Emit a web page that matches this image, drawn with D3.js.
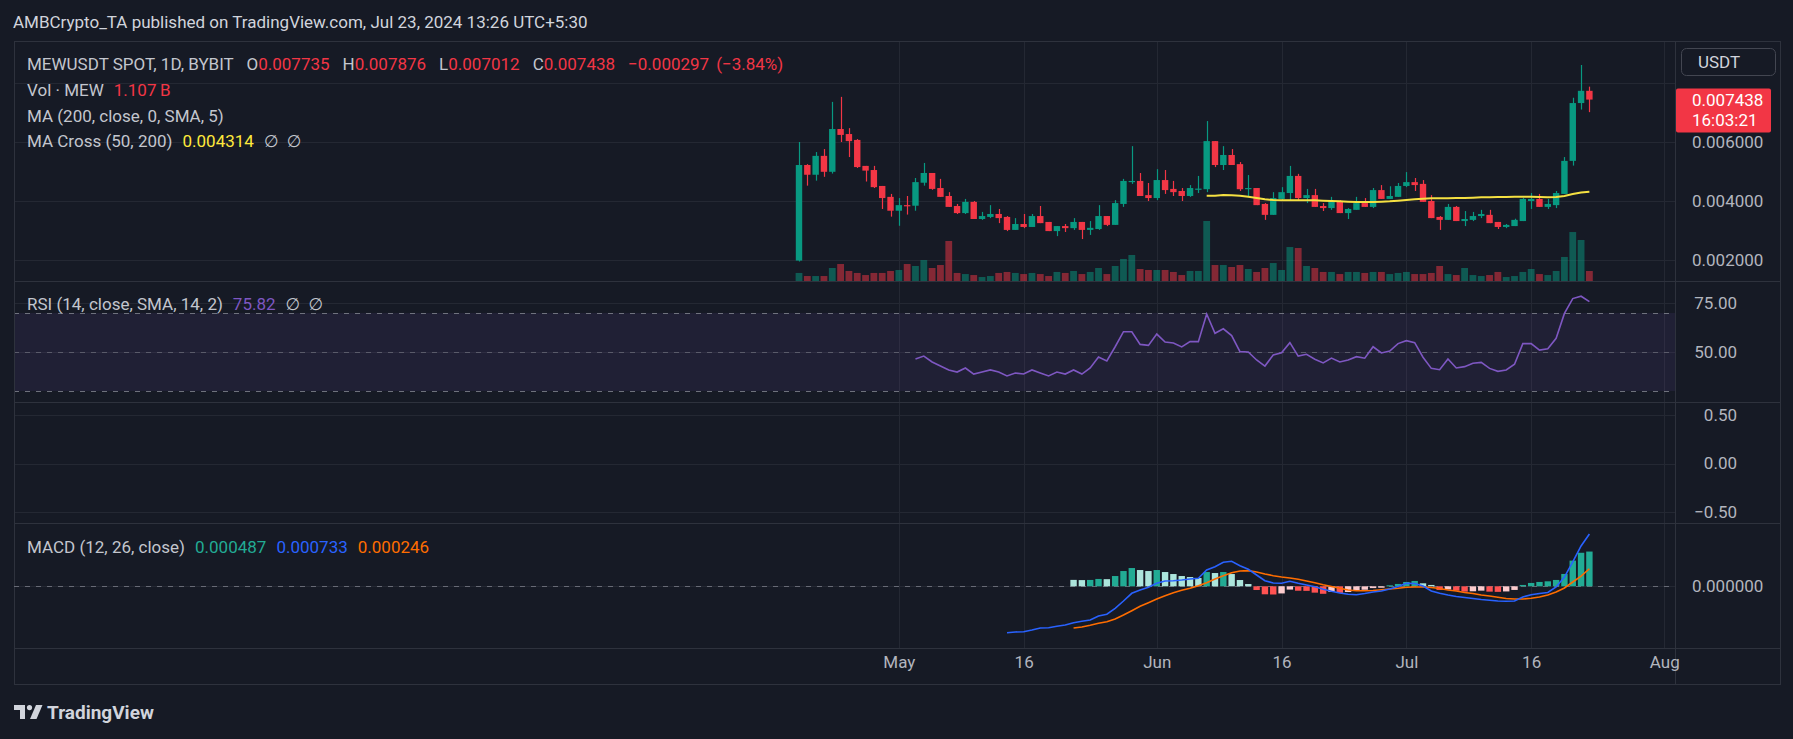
<!DOCTYPE html>
<html>
<head>
<meta charset="utf-8">
<script src="https://cdn.jsdelivr.net/npm/d3@7"></script>
<style>
html, body { margin: 0; padding: 0; background: #161a25; }
svg { display: block; font-family: Roboto, "Noto Sans", "DejaVu Sans", sans-serif; }
</style>
</head>
<body>
<script>
// ---- Data ----
const firstDay = Date.UTC(2024, 3, 19);   // Apr 19, 2024
const lastDay = Date.UTC(2024, 6, 23);    // Jul 23, 2024

const opens = [0.00198,0.00522,0.00489,0.00553,0.00499,0.00644,0.00627,0.00607,0.00519,0.00505,
  0.00451,0.00414,0.00367,0.00386,0.00384,0.00462,0.00495,0.00444,0.00417,0.00383,
  0.00359,0.00397,0.00339,0.00346,0.00356,0.00346,0.00302,0.00322,0.00312,0.00349,
  0.00329,0.00298,0.00315,0.00308,0.00329,0.00302,0.00305,0.00349,0.00319,0.00390,
  0.00465,0.00468,0.00420,0.00410,0.00471,0.00441,0.00434,0.00417,0.00440,0.00440,
  0.00603,0.00522,0.00556,0.00525,0.00440,0.00444,0.00390,0.00353,0.00407,0.00427,
  0.00485,0.00410,0.00420,0.00383,0.00376,0.00400,0.00359,0.00370,0.00393,0.00380,
  0.00437,0.00407,0.00414,0.00451,0.00464,0.00458,0.00400,0.00346,0.00336,0.00380,
  0.00332,0.00336,0.00349,0.00353,0.00329,0.00312,0.00315,0.00332,0.00400,0.00407,
  0.00380,0.00386,0.00424,0.00536,0.00732,0.007735];
const highs = [0.00600,0.00525,0.00566,0.00576,0.00736,0.00753,0.00647,0.00610,0.00519,0.00519,
  0.00451,0.00424,0.00410,0.00417,0.00478,0.00529,0.00495,0.00475,0.00430,0.00390,
  0.00407,0.00400,0.00363,0.00386,0.00373,0.00349,0.00342,0.00356,0.00356,0.00383,
  0.00329,0.00315,0.00322,0.00342,0.00329,0.00332,0.00386,0.00349,0.00403,0.00475,
  0.00586,0.00495,0.00461,0.00508,0.00505,0.00468,0.00444,0.00454,0.00485,0.00671,
  0.00603,0.00586,0.00576,0.00532,0.00488,0.00444,0.00393,0.00430,0.00447,0.00519,
  0.00492,0.00441,0.00441,0.00393,0.00414,0.00403,0.00376,0.00414,0.00410,0.00444,
  0.00454,0.00450,0.00461,0.00498,0.00478,0.00471,0.00420,0.00349,0.00390,0.00383,
  0.00366,0.00363,0.00370,0.00370,0.00329,0.00322,0.00340,0.00411,0.00427,0.00424,
  0.00407,0.00434,0.00549,0.00750,0.00861,0.007876];
const lows = [0.00195,0.00452,0.00469,0.00482,0.00493,0.00600,0.00549,0.00512,0.00466,0.00444,
  0.00373,0.00347,0.00316,0.00354,0.00367,0.00452,0.00438,0.00414,0.00380,0.00356,
  0.00356,0.00339,0.00336,0.00342,0.00325,0.00298,0.00302,0.00308,0.00312,0.00325,
  0.00298,0.00281,0.00295,0.00302,0.00271,0.00285,0.00302,0.00315,0.00319,0.00380,
  0.00458,0.00417,0.00400,0.00403,0.00424,0.00417,0.00400,0.00414,0.00427,0.00430,
  0.00515,0.00505,0.00522,0.00434,0.00414,0.00386,0.00336,0.00353,0.00400,0.00400,
  0.00400,0.00393,0.00380,0.00366,0.00370,0.00359,0.00339,0.00370,0.00380,0.00376,
  0.00407,0.00407,0.00414,0.00447,0.00434,0.00397,0.00342,0.00302,0.00336,0.00332,
  0.00315,0.00332,0.00342,0.00325,0.00305,0.00308,0.00315,0.00332,0.00373,0.00380,
  0.00373,0.00376,0.00424,0.00520,0.00710,0.007012];
const closes = [0.00522,0.00489,0.00553,0.00499,0.00644,0.00624,0.00603,0.00515,0.00503,0.00447,
  0.00410,0.00367,0.00386,0.00384,0.00464,0.00495,0.00441,0.00414,0.00380,0.00359,
  0.00397,0.00339,0.00349,0.00356,0.00342,0.00302,0.00322,0.00312,0.00349,0.00325,
  0.00298,0.00315,0.00308,0.00329,0.00302,0.00309,0.00349,0.00319,0.00393,0.00468,
  0.00468,0.00417,0.00410,0.00471,0.00437,0.00430,0.00417,0.00444,0.00442,0.00603,
  0.00522,0.00556,0.00522,0.00440,0.00444,0.00386,0.00353,0.00410,0.00430,0.00485,
  0.00410,0.00420,0.00380,0.00376,0.00400,0.00359,0.00373,0.00393,0.00380,0.00437,
  0.00407,0.00417,0.00451,0.00464,0.00454,0.00397,0.00342,0.00336,0.00380,0.00332,
  0.00339,0.00349,0.00356,0.00325,0.00312,0.00319,0.00336,0.00407,0.00407,0.00380,
  0.00390,0.00427,0.00536,0.00732,0.007735,0.007438];
// volume, billions of MEW
const volumes = [0.89,0.55,0.55,0.55,1.44,1.88,1.11,0.89,0.66,0.89,
  0.89,1.11,1.22,1.88,1.66,2.32,1.44,1.77,4.43,0.89,
  0.77,0.66,0.44,0.55,0.89,1.00,0.89,0.77,0.89,0.77,
  0.55,1.00,0.89,1.11,0.77,1.00,1.44,0.77,1.66,2.44,
  2.88,1.33,1.22,1.22,1.22,1.00,0.66,1.11,1.11,6.64,
  1.77,1.77,1.55,1.77,1.33,1.00,1.44,1.99,1.22,3.76,
  3.65,1.66,1.44,1.00,1.00,0.77,1.00,1.00,0.89,1.00,
  1.00,0.77,0.89,1.00,0.77,0.77,0.89,1.66,0.77,0.66,
  1.44,0.66,0.55,0.66,1.00,0.44,0.55,1.00,1.33,0.77,
  0.66,1.11,2.66,5.42,4.54,1.107];

// MA Cross (50) starts at candle 50
const maStart = 49;
const maCross = [0.004181,0.004181,0.004203,0.004192,0.004181,0.004147,0.004102,0.004057,0.004034,0.004023,
  0.004023,0.004023,0.004023,0.004023,0.004011,0.004000,0.003989,0.003977,0.003966,0.003966,
  0.003966,0.003977,0.003989,0.004011,0.004034,0.004057,0.004079,0.004090,0.004090,0.004090,
  0.004102,0.004102,0.004113,0.004124,0.004124,0.004136,0.004136,0.004147,0.004147,0.004147,
  0.004136,0.004124,0.004136,0.004170,0.004237,0.004288,0.004314];

// RSI (14) starts at candle 15
const rsiStart = 14;
const rsi = [46.4,47.9,44.9,42.8,40.8,39.7,41.8,38.7,39.7,40.8,
  39.7,37.7,39.2,38.7,40.8,39.2,37.7,39.7,38.7,40.8,
  38.7,41.8,47.4,45.4,52.7,60.4,60.4,53.9,53.4,59.2,
  55.1,54.6,52.6,55.3,55.3,69.5,59.6,61.9,58.4,50.2,
  50.0,45.9,42.8,48.5,49.6,54.8,47.9,48.8,46.3,44.4,
  46.9,44.9,45.9,47.6,46.8,52.7,49.5,50.5,54.3,55.8,
  54.8,47.3,41.6,40.9,46.4,41.8,42.5,44.2,44.7,41.6,
  40.1,40.8,43.7,54.3,54.3,51.0,51.7,57.0,69.8,77.4,
  78.6,75.82];

// MACD values in millionths
const macdStart = 25;
const macd = [-650,-640,-636,-612,-584,-580,-561,-542,-510,-490,
  -472,-416,-392,-308,-206,-98,-52,-14,42,74,
  78,88,102,112,228,275,336,350,289,238,
  158,78,46,42,70,42,18,-6,-42,-70,
  -94,-112,-118,-101,-80,-66,-38,-3,42,39,
  4,-66,-98,-122,-143,-157,-171,-185,-196,-206,
  -210,-206,-150,-118,-101,-87,-10,130,341,565,
  733];
const signalStart = 33;
const signal = [-584,-570,-546,-518,-496,-458,-402,-342,-280,-230,
  -178,-132,-90,-56,-28,8,50,102,149,191,
  214,219,200,172,149,130,116,98,74,50,
  22,-3,-28,-52,-62,-62,-59,-48,-38,-28,
  -14,-10,-10,-17,-31,-52,-66,-87,-101,-122,
  -136,-154,-171,-178,-178,-168,-150,-122,-80,-24,
  60,144,246];
const hist = [90,87,89,103,100,144,214,256,228,214,
  228,200,172,144,130,116,200,186,200,172,
  88,32,-52,-112,-115,-100,-46,-62,-64,-89,
  -105,-78,-92,-80,-55,-48,-25,-20,14,33,
  61,75,42,19,-51,-45,-61,-75,-70,-61,
  -75,-78,-72,-51,19,47,61,70,89,173,
  360,470,487];

const timeTicks = ["2024-05-01","2024-05-16","2024-06-01","2024-06-16","2024-07-01","2024-07-16","2024-08-01"];
const timeLabels = ["May","16","Jun","16","Jul","16","Aug"];
const priceTicks = [0.002, 0.004, 0.006, 0.008];
const priceLabelTicks = [0.002, 0.004, 0.006];
const rsiTicks = [75, 50];
const paneTicks = [0.5, 0, -0.5];

// ---- Setup ----
const W = 1793, H = 739;
const frameL = 14, plotR = 1675, frameR = 1780, frameT = 41, frameB = 684;
const mainB = 281, rsiB = 402, paneB = 523, macdB = 648;

const C = {
  bg: "#161a25", grid: "#242833", sep: "#2e323d", text: "#d1d4dc", axis: "#b2b5be",
  up: "#089981", down: "#f23645", ma: "#f5e142", rsi: "#7e57c2",
  macd: "#2962ff", sig: "#ff6d00",
  hUp: "#22ab94", hUpF: "#ace5dc", hDnR: "#fccbcd", hDn: "#ff5252"
};

const days = d3.utcDay.range(new Date(firstDay), new Date(lastDay + 864e5));

const x = d3.scaleUtc().domain([new Date(firstDay), new Date(lastDay)]).range([799, 1589.4]);
const yPrice = d3.scaleLinear().domain([0.002, 0.006]).range([260, 142]);
const yVol = d3.scaleLinear().domain([0, 6.64]).range([mainB, 221]);
const yRsi = d3.scaleLinear().domain([30, 70]).range([391, 313]);
const yPane = d3.scaleLinear().domain([-0.5, 0.5]).range([512, 415]);
const yMacd = d3.scaleLinear().domain([0, 733]).range([586.3, 534]);

const svg = d3.select("body").append("svg").attr("width", W).attr("height", H);
svg.append("rect").attr("width", W).attr("height", H).attr("fill", C.bg);

const defs = svg.append("defs");
function clip(id, y0, y1) {
  defs.append("clipPath").attr("id", id).append("rect")
    .attr("x", frameL).attr("y", y0).attr("width", plotR - frameL).attr("height", y1 - y0);
}
clip("cMain", frameT, mainB); clip("cRsi", mainB, rsiB); clip("cMacd", paneB, macdB);

// ---- Grid ----
const grid = svg.append("g").attr("stroke", C.grid).attr("stroke-width", 1);
timeTicks.forEach(t => {
  const xx = Math.round(x(new Date(t))) + 0.5;
  grid.append("line").attr("x1", xx).attr("x2", xx).attr("y1", frameT).attr("y2", macdB);
});
function hline(g, y, x0, x1) {
  g.append("line").attr("x1", x0).attr("x2", x1).attr("y1", Math.round(y) + 0.5).attr("y2", Math.round(y) + 0.5);
}
priceTicks.forEach(p => hline(grid, yPrice(p), frameL, plotR));
rsiTicks.forEach(v => hline(grid, yRsi(v), frameL, plotR));
paneTicks.forEach(v => hline(grid, yPane(v), frameL, plotR));
hline(grid, yMacd(0), frameL, plotR);

// RSI band
svg.append("rect").attr("x", frameL).attr("width", plotR - frameL)
  .attr("y", yRsi(70)).attr("height", yRsi(30) - yRsi(70))
  .attr("fill", "rgba(126,87,194,0.1)");
[70, 50, 30].forEach(v => {
  svg.append("line").attr("x1", frameL).attr("x2", plotR)
    .attr("y1", Math.round(yRsi(v)) + 0.5).attr("y2", Math.round(yRsi(v)) + 0.5)
    .attr("stroke", "#787b86").attr("stroke-dasharray", "5,6").attr("opacity", v === 50 ? 0.6 : 0.9);
});

// separators
const sep = svg.append("g").attr("stroke", C.sep).attr("stroke-width", 1);
[mainB, rsiB, paneB, macdB].forEach(y => hline(sep, y, frameL, frameR));
sep.append("line").attr("x1", plotR + 0.5).attr("x2", plotR + 0.5).attr("y1", frameT).attr("y2", frameB);
svg.append("rect").attr("x", frameL + 0.5).attr("y", frameT + 0.5)
  .attr("width", frameR - frameL).attr("height", frameB - frameT)
  .attr("fill", "none").attr("stroke", C.sep);

// ---- Volume ----
const bars = days.map((d, i) => ({ d, o: opens[i], h: highs[i], l: lows[i], c: closes[i], v: volumes[i] }));
const gMain = svg.append("g").attr("clip-path", "url(#cMain)");
gMain.selectAll("rect.vol").data(bars).join("rect").attr("class", "vol")
  .attr("x", b => x(b.d) - 3.4).attr("width", 6.8)
  .attr("y", b => yVol(b.v)).attr("height", b => mainB - yVol(b.v))
  .attr("fill", b => b.c >= b.o ? C.up : C.down).attr("fill-opacity", 0.5);

// ---- Candles ----
gMain.selectAll("line.wick").data(bars).join("line").attr("class", "wick")
  .attr("x1", b => Math.round(x(b.d)) + 0.5).attr("x2", b => Math.round(x(b.d)) + 0.5)
  .attr("y1", b => yPrice(b.h)).attr("y2", b => yPrice(b.l))
  .attr("stroke", b => b.c >= b.o ? C.up : C.down).attr("stroke-width", 1.2);
gMain.selectAll("rect.body").data(bars).join("rect").attr("class", "body")
  .attr("x", b => x(b.d) - 3.2).attr("width", 6.4)
  .attr("y", b => yPrice(Math.max(b.o, b.c)))
  .attr("height", b => Math.max(1.2, Math.abs(yPrice(b.o) - yPrice(b.c))))
  .attr("fill", b => b.c >= b.o ? C.up : C.down);

// MA cross line
const maPts = maCross.map((v, i) => [days[maStart + i], v]);
gMain.append("path").datum(maPts)
  .attr("d", d3.line().x(p => x(p[0])).y(p => yPrice(p[1])))
  .attr("fill", "none").attr("stroke", C.ma).attr("stroke-width", 2);

// ---- RSI ----
const rsiPts = rsi.map((v, i) => [days[rsiStart + i], v]);
svg.append("g").attr("clip-path", "url(#cRsi)").append("path").datum(rsiPts)
  .attr("d", d3.line().x(p => x(p[0])).y(p => yRsi(p[1])))
  .attr("fill", "none").attr("stroke", C.rsi).attr("stroke-width", 1.6);

// ---- MACD ----
const gMacd = svg.append("g").attr("clip-path", "url(#cMacd)");
gMacd.append("line").attr("x1", frameL).attr("x2", plotR)
  .attr("y1", Math.round(yMacd(0)) + 0.5).attr("y2", Math.round(yMacd(0)) + 0.5)
  .attr("stroke", "#787b86").attr("stroke-dasharray", "5,6").attr("opacity", 0.8);
const histPts = hist.map((v, i) => ({ d: days[signalStart + i], v, prev: i > 0 ? hist[i - 1] : null }));
function histColor(p) {
  const rising = p.prev !== null && p.v > p.prev;
  if (p.v >= 0) return rising ? C.hUp : C.hUpF;
  return rising ? C.hDnR : C.hDn;
}
gMacd.selectAll("rect.hist").data(histPts).join("rect").attr("class", "hist")
  .attr("x", p => x(p.d) - 3.2).attr("width", 6.4)
  .attr("y", p => Math.min(yMacd(p.v), yMacd(0)))
  .attr("height", p => Math.abs(yMacd(p.v) - yMacd(0)))
  .attr("fill", histColor);
const macdPts = macd.map((v, i) => [days[macdStart + i], v]);
const sigPts = signal.map((v, i) => [days[signalStart + i], v]);
const mline = d3.line().x(p => x(p[0])).y(p => yMacd(p[1]));
gMacd.append("path").datum(sigPts).attr("d", mline)
  .attr("fill", "none").attr("stroke", C.sig).attr("stroke-width", 1.6);
gMacd.append("path").datum(macdPts).attr("d", mline)
  .attr("fill", "none").attr("stroke", C.macd).attr("stroke-width", 1.6);

// ---- Axes ----
function styleAxis(g) {
  g.select(".domain").remove();
  g.selectAll("line").remove();
  g.selectAll("text").attr("fill", C.axis).attr("font-size", 17)
    .attr("font-family", "Roboto, 'Noto Sans', sans-serif");
}
svg.append("g").attr("transform", "translate(1692,0)")
  .call(d3.axisRight(yPrice).tickValues(priceLabelTicks).tickFormat(d3.format(".6f")).tickSize(0).tickPadding(0))
  .call(styleAxis);
svg.append("g").attr("transform", "translate(1692,0)")
  .call(d3.axisRight(yMacd).tickValues([0]).tickFormat(v => d3.format(".6f")(v / 1e6)).tickSize(0).tickPadding(0))
  .call(styleAxis);
svg.append("g").attr("transform", "translate(1737,0)")
  .call(d3.axisLeft(yRsi).tickValues(rsiTicks).tickFormat(d3.format(".2f")).tickSize(0).tickPadding(0))
  .call(styleAxis);
svg.append("g").attr("transform", "translate(1737,0)")
  .call(d3.axisLeft(yPane).tickValues(paneTicks).tickFormat(d3.format(".2f")).tickSize(0).tickPadding(0))
  .call(styleAxis);
svg.append("g").attr("transform", "translate(0,656)")
  .call(d3.axisBottom(x).tickValues(timeTicks.map(t => new Date(t)))
    .tickFormat((d, i) => timeLabels[i]).tickSize(0).tickPadding(0))
  .call(styleAxis);

// USDT button and last price tag
svg.append("rect").attr("x", 1681.5).attr("y", 48.5).attr("width", 94).attr("height", 27).attr("rx", 5)
  .attr("fill", C.bg).attr("stroke", "#434651");
svg.append("text").attr("x", 1698).attr("y", 68).attr("fill", C.text).attr("font-size", 17).text("USDT");
const lastClose = closes[closes.length - 1];
svg.append("rect").attr("x", 1676).attr("y", yPrice(lastClose) - 11).attr("width", 95).attr("height", 44)
  .attr("rx", 2).attr("fill", C.down);
svg.append("text").attr("x", 1692).attr("y", yPrice(lastClose) + 6).attr("fill", "#fff")
  .attr("font-size", 17).text(d3.format(".6f")(lastClose));
svg.append("text").attr("x", 1692).attr("y", yPrice(lastClose) + 26).attr("fill", "#fff")
  .attr("font-size", 17).text("16:03:21");

// ---- Texts ----
svg.append("text").attr("x", 13).attr("y", 28).attr("fill", C.text).attr("font-size", 17)
  .text("AMBCrypto_TA published on TradingView.com, Jul 23, 2024 13:26 UTC+5:30");

function legend(y, parts) {
  const t = svg.append("text").attr("x", 27).attr("y", y).attr("font-size", 17);
  parts.forEach(([s, c, dx]) => t.append("tspan").attr("fill", c).attr("dx", dx || 0).text(s));
}
const g1 = "#c3c6ce";
legend(70, [["MEWUSDT SPOT, 1D, BYBIT", g1], ["O", g1, 13], ["0.007735", C.down], ["H", g1, 13], ["0.007876", C.down],
  ["L", g1, 13], ["0.007012", C.down], ["C", g1, 13], ["0.007438", C.down], ["\u22120.000297", C.down, 13],
  ["(\u22123.84%)", C.down, 7]]);
legend(96, [["Vol \u00b7 MEW", g1], ["1.107\u2009B", C.down, 10]]);
legend(122, [["MA (200, close, 0, SMA, 5)", g1]]);
legend(147, [["MA Cross (50, 200)", g1], ["0.004314", "#ffe93b", 10], ["\u2205", g1, 10], ["\u2205", g1, 8]]);
legend(310, [["RSI (14, close, SMA, 14, 2)", g1], ["75.82", C.rsi, 10], ["\u2205", g1, 10], ["\u2205", g1, 8]]);
legend(553, [["MACD (12, 26, close)", g1], ["0.000487", C.hUp, 10], ["0.000733", C.macd, 10], ["0.000246", C.sig, 10]]);

// footer logo
const logo = svg.append("g").attr("transform", "translate(14,705)").attr("fill", C.text);
logo.append("path").attr("d", "M0,0 H11 V14 H6 V5 H0 Z");
logo.append("circle").attr("cx", 15.5).attr("cy", 2.6).attr("r", 2.6);
logo.append("path").attr("d", "M22,0 H28.5 L22.5,14 H16 Z");
svg.append("text").attr("x", 47).attr("y", 719).attr("fill", C.text).attr("font-size", 19)
  .attr("font-weight", "bold").text("TradingView");
</script>
</body>
</html>
